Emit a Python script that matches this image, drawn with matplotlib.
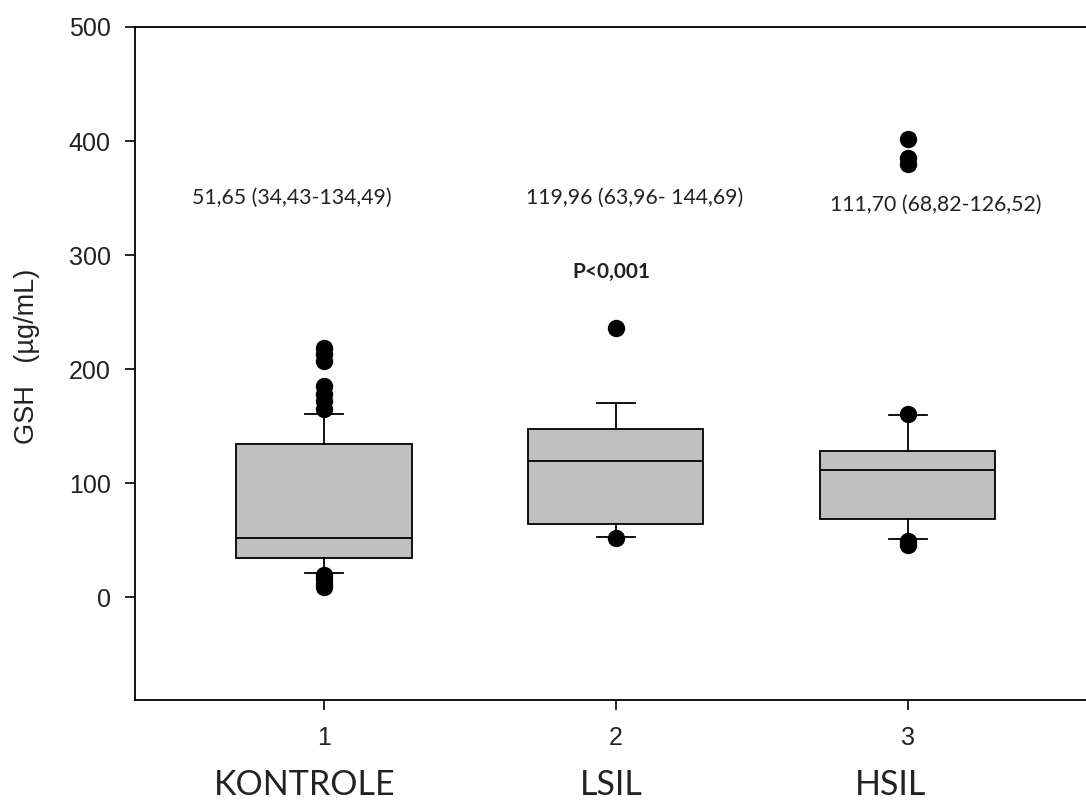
import matplotlib
matplotlib.use("Agg")
import matplotlib.pyplot as plt
import matplotlib.transforms as mtransforms

# group data
positions = [1, 2, 3]
groups = ["KONTROLE", "LSIL", "HSIL"]
medians = [51.65, 119.96, 111.70]
q1 = [34.43, 63.96, 68.82]
q3 = [134.49, 147.5, 128.5]
whis_lo = [21, 52.5, 51]
whis_hi = [161, 170, 160]
fliers = [
    [219, 213, 207, 185, 178, 172, 165, 20, 16, 12, 9],
    [236, 52],
    [402, 385, 380, 161, 49, 46],
]
annot = ["51,65 (34,43-134,49)", "119,96 (63,96- 144,69)", "111,70 (68,82-126,52)"]
p_text = "P<0,001"

stats = []
for i in range(3):
    stats.append(dict(med=medians[i], q1=q1[i], q3=q3[i],
                      whislo=whis_lo[i], whishi=whis_hi[i], fliers=fliers[i]))

fig = plt.figure(figsize=(10.86, 8.01), dpi=100)
ax = fig.add_axes([135 / 1086, 1 - 700 / 801, 1 - 135 / 1086, (700 - 27) / 801])

ax.bxp(stats, positions=positions, widths=0.6, capwidths=0.13, patch_artist=True,
       boxprops=dict(facecolor="#c0c0c0", edgecolor="black", linewidth=1.3),
       medianprops=dict(color="black", linewidth=1.3),
       whiskerprops=dict(color="black", linewidth=1.3),
       capprops=dict(color="black", linewidth=1.3),
       flierprops=dict(marker="o", markerfacecolor="black", markeredgecolor="black",
                       markersize=11.5))

ax.set_xlim(0.353, 3.61)
ax.set_ylim(-90, 500)
ax.set_yticks([0, 100, 200, 300, 400, 500])
ax.set_xticks(positions)
ax.set_xticklabels(["1", "2", "3"])
ax.spines["right"].set_visible(False)
for s in ["left", "bottom", "top"]:
    ax.spines[s].set_linewidth(1.3)
ax.tick_params(direction="out", length=7, width=1.2, labelsize=18, colors="black")
ax.tick_params(axis="x", pad=12)
ax.tick_params(axis="y", pad=10.5)
for lab in ax.get_xticklabels() + ax.get_yticklabels():
    lab.set_family(["Liberation Sans", "DejaVu Sans"])
    lab.set_color("#222222")

# stats text over each group
ann_x = [0.89, 2.065, 3.095]
ann_y = [350, 350, 344]
for x, y, t in zip(ann_x, ann_y, annot):
    ax.text(x, y, t, ha="center", va="center", fontsize=15.3, family="Lato", color="#222222")
ax.text(1.985, 285, p_text, ha="center", va="center", fontsize=15, family="Lato",
        fontweight="bold", color="#222222")

# group names under the tick numbers
trans = mtransforms.blended_transform_factory(ax.transData, ax.transAxes)
name_x = [0.935, 1.985, 2.94]
for x, g in zip(name_x, groups):
    ax.text(x, -0.141, g, transform=trans, ha="center", va="baseline",
            fontsize=24.5, family="Lato", color="#222222")

fig.text(27 / 1086, 1 - 356 / 801, "GSH   (µg/mL)", rotation=90, ha="center", va="center",
         fontsize=19.5, family=["Liberation Sans", "DejaVu Sans"], color="#222222")

fig.savefig("out.png", dpi=100)
